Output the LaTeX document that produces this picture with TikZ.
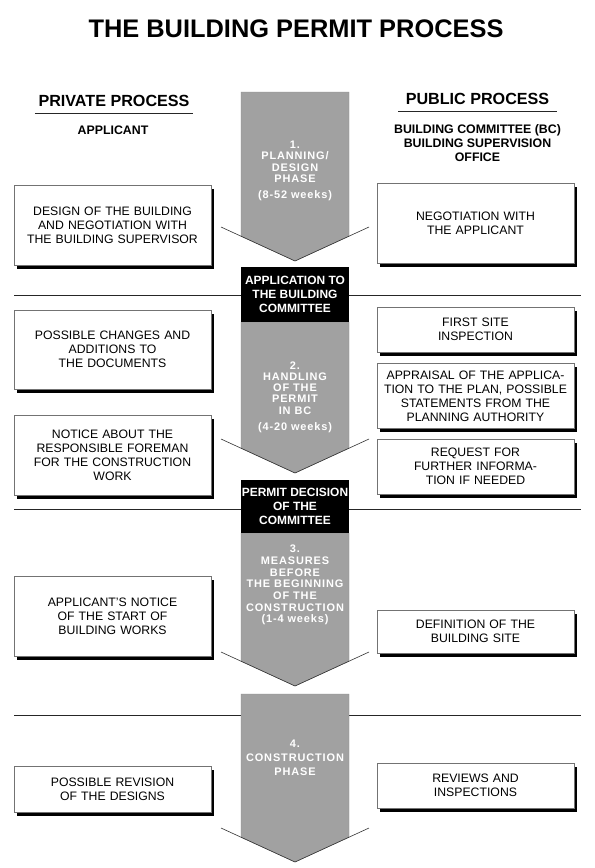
\documentclass[tikz,border=0pt]{standalone}
\usepackage{fontspec}
\setmainfont{Liberation Sans}
\setsansfont{Liberation Sans}
\newfontfamily\phasefont{Liberation Sans}[LetterSpace=8]
\usetikzlibrary{positioning,shadows}

\begin{document}
\begin{tikzpicture}[
  x=1bp, y=-1bp,
  font=\fontsize{12.3}{14}\selectfont,
  task/.style={draw=black!55, line width=0.5bp, fill=white, align=center, text width=190bp, minimum width=197bp, inner sep=3bp,
    drop shadow={shadow xshift=3bp, shadow yshift=-3.5bp, fill=black, opacity=1}},
  gate/.style={fill=black, text=white, align=center, minimum width=108bp, minimum height=55bp, inner sep=0pt, font=\bfseries\fontsize{12}{14}\selectfont},
  phase/.style={text=white, align=center, font=\phasefont\bfseries\fontsize{11}{11.3}\selectfont},
  head/.style={font=\bfseries\fontsize{16.2}{18}\selectfont, anchor=base},
  sub/.style={font=\bfseries\fontsize{12.4}{14.3}\selectfont, align=center},
  rule/.style={black!85, line width=0.9bp},
  body/.style={fill=black!37, draw=black!45, line width=0.4bp},
  wing/.style={draw=black!80, line width=0.6bp}
]
  \fill[white] (0,0) rectangle (595,868);
  \useasboundingbox (0,0) rectangle (595,868);

  % headings
  \node[font=\bfseries\fontsize{25.5}{28}\selectfont, anchor=base] (title) at (296,37) {THE BUILDING PERMIT PROCESS};
  \node[head] (private) at (114,106) {PRIVATE PROCESS};
  \node[head] (public) at (477.5,104) {PUBLIC PROCESS};
  \draw[rule] ([yshift=-7bp]private.base west) -- ([yshift=-7bp]private.base east);
  \draw[rule] ([xshift=-4bp,yshift=-7bp]public.base west) -- ([xshift=4bp,yshift=-7bp]public.base east);
  \node[sub] (applicant) at (113,130) {APPLICANT};
  \node[sub] (committee) at (477.5,143) {BUILDING COMMITTEE (BC)\\BUILDING SUPERVISION\\OFFICE};

  % separators
  \foreach \y in {295,509,715}
    \draw[rule] (14,\y) -- (581,\y);

  % phase arrows: top / wing / tip
  \foreach \top/\wing/\tip in {92/227/261, 322/439/473, 533/652/686, 694/828/862} {
    \pgfmathsetmacro{\edge}{\wing+9.2}
    \filldraw[body] (241,\top) -- (349,\top) -- (349,\edge) -- (295,\tip) -- (241,\edge) -- cycle;
    \draw[wing] (221,\wing) -- (295,\tip) -- (369,\wing);
  }

  \node[phase] (p1) at (295,171) {1.\\PLANNING/\\DESIGN\\PHASE\\[5bp](8-52 weeks)};
  \node[phase] (p2) at (295,397) {2.\\HANDLING\\OF THE\\PERMIT\\IN BC\\[5bp](4-20 weeks)};
  \node[phase, font=\phasefont\bfseries\fontsize{11}{11.7}\selectfont] (p3) at (295,585) {3.\\MEASURES\\BEFORE\\THE BEGINNING\\OF THE\\CONSTRUCTION\\(1-4 weeks)};
  \node[phase, font=\phasefont\bfseries\fontsize{11}{14}\selectfont] (p4) at (295,758) {4.\\CONSTRUCTION\\PHASE};

  % decisions
  \node[gate] (g1) at (295,294.5) {APPLICATION TO\\THE BUILDING\\COMMITTEE};
  \node[gate, minimum height=53bp] (g2) at (295,506.5) {PERMIT DECISION\\OF THE\\COMMITTEE};

  % private side
  \node[task, minimum height=80bp] (design) at (112.5,225) {DESIGN OF THE BUILDING\\AND NEGOTIATION WITH\\THE BUILDING SUPERVISOR};
  \node[task, minimum height=79bp] (changes) at (112.5,349.5) {POSSIBLE CHANGES AND\\ADDITIONS TO\\THE DOCUMENTS};
  \node[task, minimum height=80bp] (foreman) at (112.5,455) {NOTICE ABOUT THE\\RESPONSIBLE FOREMAN\\FOR THE CONSTRUCTION\\WORK};
  \node[task, minimum height=80bp] (start) at (112.5,616) {APPLICANT'S NOTICE\\OF THE START OF\\BUILDING WORKS};
  \node[task, minimum height=46bp] (revision) at (112.5,789) {POSSIBLE REVISION\\OF THE DESIGNS};

  % public side
  \node[task, minimum height=80bp] (negotiation) at (475.5,223) {NEGOTIATION WITH\\THE APPLICANT};
  \node[task, minimum height=45bp] (inspection) at (475.5,329.5) {FIRST SITE\\INSPECTION};
  \node[task, minimum height=65bp, below=11bp of inspection] (appraisal) {APPRAISAL OF THE APPLICA-\\TION TO THE PLAN, POSSIBLE\\STATEMENTS FROM THE\\PLANNING AUTHORITY};
  \node[task, minimum height=55bp, below=10bp of appraisal] (request) {REQUEST FOR\\FURTHER INFORMA-\\TION IF NEEDED};
  \node[task, minimum height=43bp] (site) at (475.5,631.5) {DEFINITION OF THE\\BUILDING SITE};
  \node[task, minimum height=45bp] (reviews) at (475.5,785.5) {REVIEWS AND\\INSPECTIONS};
\end{tikzpicture}
\end{document}
